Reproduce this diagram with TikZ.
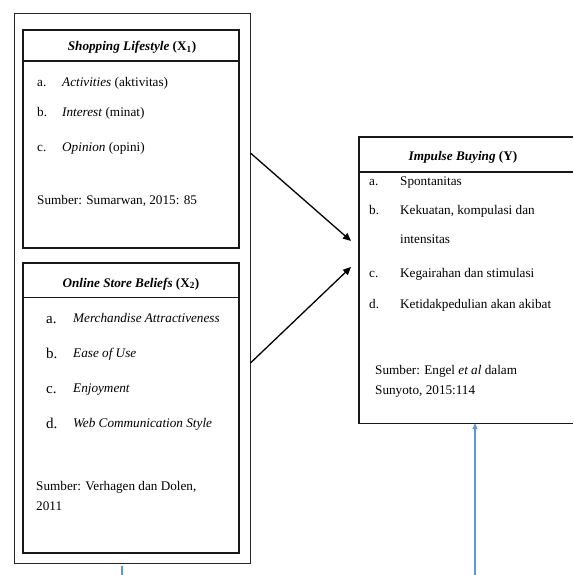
\documentclass[tikz,border=0pt]{standalone}
\usepackage{fontspec}
\setmainfont{Liberation Serif}
\usetikzlibrary{arrows.meta}
\definecolor{wordblue}{RGB}{91,155,213}
\tikzset{
  outerbox/.style={draw=black!85, line width=0.9pt, rectangle, inner sep=0pt},
  varbox/.style={draw=black!90, line width=1.4pt, rectangle, inner sep=0pt, minimum width=216pt},
  txt/.style={anchor=base west, inner sep=0pt, font=\fontsize{13.2}{16}\selectfont},
  bigtxt/.style={anchor=base west, inner sep=0pt, font=\fontsize{15}{18}\selectfont},
  head/.style={anchor=base, inner sep=0pt, font=\fontsize{13.2}{16}\selectfont\bfseries},
  flow/.style={-{Triangle[length=8pt,width=7pt]}, line width=1.3pt, black},
  blueline/.style={line width=1.4pt, draw=wordblue},
}
\begin{document}
\begin{tikzpicture}[x=1pt,y=-1pt]
\useasboundingbox (0,0) rectangle (573,575);
% outer frame
\node[outerbox, minimum width=236pt, minimum height=550pt] (outer) at (132,288) {};
% box 1
\node[varbox, minimum height=218pt] (b1) at (131,139) {};
\draw[line width=2pt, black!90] (b1.west |- 0,61) coordinate (h1w) -- (b1.east |- 0,61) coordinate (h1e);
\node[head] (t1) at (132,51) {\textit{Shopping Lifestyle} (X\textsubscript{1})};
\node[txt] (a1l) at (37,87) {a.};
\node[txt] (a1) at (62,87) {\textit{Activities} (aktivitas)};
\node[txt] (b1l) at (37,117) {b.};
\node[txt] (b1t) at (62,117) {\textit{Interest} (minat)};
\node[txt] (c1l) at (37,151) {c.};
\node[txt] (c1) at (62,151) {\textit{Opinion} (opini)};
\node[txt] (s1) at (37,204) {Sumber: Sumarwan, 2015: 85};
% box 2
\node[varbox, minimum height=290pt] (b2) at (131,408) {};
\draw[line width=1pt, black!90] (b2.west |- 0,297) coordinate (h2w) -- (b2.east |- 0,297) coordinate (h2e);
\node[head] (t2) at (131,287) {\textit{Online Store Beliefs} (X\textsubscript{2})};
\node[bigtxt] (a2l) at (46,323) {a.};
\node[txt] (a2) at (73,322) {\textit{Merchandise Attractiveness}};
\node[bigtxt] (b2l) at (46,358) {b.};
\node[txt] (b2t) at (73,357) {\textit{Ease of Use}};
\node[bigtxt] (c2l) at (46,393) {c.};
\node[txt] (c2) at (73,392) {\textit{Enjoyment}};
\node[bigtxt] (d2l) at (46,428) {d.};
\node[txt] (d2) at (73,427) {\textit{Web Communication Style}};
\node[txt] (s2) at (36,490) {Sumber: Verhagen dan Dolen,};
\node[txt] (s2b) at (36,510) {2011};
% right box (open on the right)
\node[inner sep=0pt, minimum width=214pt, minimum height=286pt] (yb) at (466,280) {};
\draw[line width=1.4pt, black!90] (yb.north east) -- (yb.north west) -- (yb.south west) -- (yb.south east);
\draw[line width=1.2pt, black!90] (yb.west |- 0,172) coordinate (h3w) -- (yb.east |- 0,172) coordinate (h3e);
\node[head] (t3) at (463,160) {\textit{Impulse Buying} (Y)};
\node[txt] (a3l) at (369,185) {a.};
\node[txt] (a3) at (400,185) {Spontanitas};
\node[txt] (b3l) at (369,214) {b.};
\node[txt] (b3) at (400,214) {Kekuatan, kompulasi dan};
\node[txt] (b3b) at (400,243) {intensitas};
\node[txt] (c3l) at (369,277) {c.};
\node[txt] (c3) at (400,277) {Kegairahan dan stimulasi};
\node[txt] (d3l) at (369,308) {d.};
\node[txt] (d3) at (400,308) {Ketidakpedulian akan akibat};
\node[txt] (s3) at (375,374) {Sumber: Engel \textit{et al} dalam};
\node[txt] (s3b) at (375,394) {Sunyoto, 2015:114};
% arrows
\coordinate (up1) at (outer.east |- 0,153);
\coordinate (up2) at (351,241);
\coordinate (lo1) at (outer.east |- 0,363);
\coordinate (lo2) at (351,267);
\draw[flow] (up1) -- (up2);
\draw[flow] (lo1) -- (lo2);
% blue lines
\coordinate (bl1) at (475,575);
\draw[blueline, -{Triangle[length=6pt,width=5pt]}] (bl1) -- (bl1 |- yb.south);
\coordinate (bl2) at (122,575);
\draw[blueline] (bl2) -- (bl2 |- 0,566);
\end{tikzpicture}
\end{document}
